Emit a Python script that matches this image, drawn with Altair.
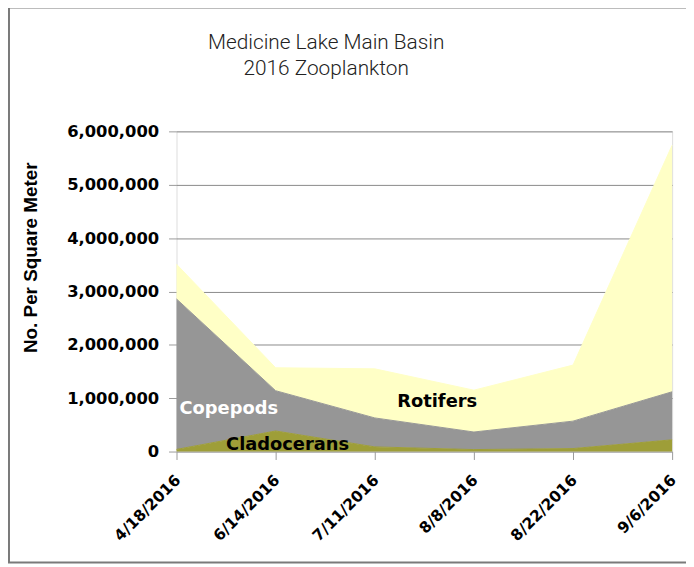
import altair as alt
import pandas as pd

dates = ["4/18/2016", "6/14/2016", "7/11/2016", "8/8/2016", "8/22/2016", "9/6/2016"]
cladocerans = [40000, 385000, 87000, 37000, 56000, 220000]
copepods = [2820000, 755000, 543000, 329000, 514000, 900000]
rotifers = [650000, 430000, 920000, 784000, 1050000, 4620000]
series = ["Cladocerans", "Copepods", "Rotifers"]
colors = ["#9E9E38", "#969696", "#FFFFC6"]
y_ticks = [0, 1000000, 2000000, 3000000, 4000000, 5000000, 6000000]

rows = []
for name, vals in zip(series, [cladocerans, copepods, rotifers]):
    for d, v in zip(dates, vals):
        rows.append({"date": d, "series": name, "value": v, "order": series.index(name)})
df = pd.DataFrame(rows)

# annotation labels (data coords + offsets)
lab_text = ["Copepods", "Rotifers", "Cladocerans"]
lab_date = ["4/18/2016", "8/8/2016", "4/18/2016"]
lab_val = [706000, 836000, 37000]
lab_color = ["white", "black", "black"]
lab_dx = [3, -37, 50]
lab_align = ["left", "center", "left"]
labels = pd.DataFrame({"text": lab_text, "date": lab_date, "value": lab_val})

x_scale = alt.Scale(type="point", padding=0)
x_enc = alt.X("date:N", sort=dates, scale=x_scale,
              axis=alt.Axis(title=None, labelAngle=-45, labelFont="DejaVu Sans",
                            labelFontWeight="bold", labelFontSize=15.5, labelColor="black",
                            labelAlign="right", labelBaseline="top",
                            tickColor="#9a9a9a", tickSize=8, domain=False, grid=False,
                            labelPadding=13, labelOffset=-4))
y_scale = alt.Scale(domain=[0, 6000000], nice=False)

area = alt.Chart(df).mark_area(line={"color": "black", "strokeWidth": 1}, opacity=1).encode(
    x=x_enc,
    y=alt.Y("value:Q", stack="zero", scale=y_scale,
            axis=alt.Axis(values=y_ticks, format=",d", title="No. Per Square Meter",
                          titleFont="Liberation Sans", titleFontSize=19, titleFontWeight="bold",
                          titleColor="black", titleX=-137, titleY=127, titleAngle=270,
                          titleAlign="center", titleBaseline="bottom",
                          labelFont="DejaVu Sans", labelFontWeight="bold", labelFontSize=16.5,
                          labelColor="black", labelPadding=10, tickColor="#9a9a9a", tickSize=8,
                          domain=False, gridColor="#8a8a8a", gridWidth=1)),
    color=alt.Color("series:N", scale=alt.Scale(domain=series, range=colors), legend=None),
    order=alt.Order("order:Q"),
)

text_layers = []
for i in range(len(lab_text)):
    sub = labels.iloc[[i]]
    text_layers.append(
        alt.Chart(sub).mark_text(font="DejaVu Sans", fontWeight="bold", fontSize=18,
                                 align=lab_align[i], baseline="alphabetic",
                                 color=lab_color[i], dx=lab_dx[i]).encode(
            x=alt.X("date:N", sort=dates, scale=x_scale),
            y=alt.Y("value:Q", scale=y_scale),
            text="text:N")
    )

frame = alt.Chart(pd.DataFrame({"a": [0]})).mark_rect(
    fillOpacity=0, stroke="#7a7a7a", strokeWidth=2).encode(
    x=alt.value(-169), x2=alt.value(530), y=alt.value(-125), y2=alt.value(435))

title_df = pd.DataFrame({"t": ["Medicine Lake Main Basin", "2016 Zooplankton"], "yy": [-83, -57]})
title = alt.Chart(title_df).mark_text(font="Roboto", fontWeight=300, fontSize=21, color="#222222",
                                      align="center", baseline="alphabetic").encode(
    x=alt.value(151), y=alt.Y("yy:Q", scale=None), text="t:N")

chart = alt.layer(area, *text_layers, frame, title).properties(
    width=500, height=323,
    padding={"left": 170, "top": 122, "right": 14, "bottom": 113},
    autosize=alt.AutoSizeParams(type="none"),
).configure_view(stroke="#8a8a8a", strokeWidth=1).configure(background="white")

chart.save("out.html", embed_options={"renderer": "svg", "actions": False})
